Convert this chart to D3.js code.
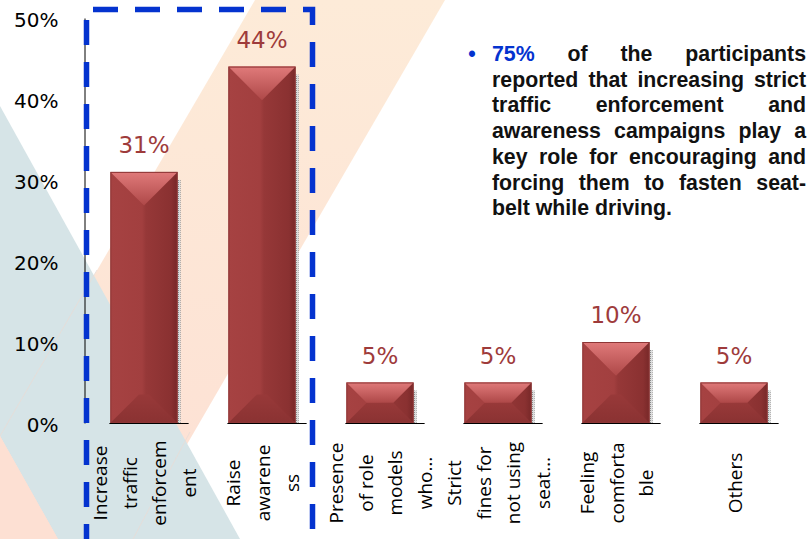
<!DOCTYPE html>
<html>
<head>
<meta charset="utf-8">
<script src="https://cdn.jsdelivr.net/npm/d3@7"></script>
<style>
  body { margin: 0; background: #fff; }
  svg { display: block; }
</style>
</head>
<body>
<div id="chart"></div>
<script>
// data
const categories = ['Increase traffic enforcement', 'Raise awareness', 'Presence of role models who...',
  'Strict fines for not using seat...', 'Feeling comfortable', 'Others'];
const labelLines = [
  ['Increase', 'traffic', 'enforcem', 'ent'],
  ['Raise', 'awarene', 'ss'],
  ['Presence', 'of role', 'models', 'who…'],
  ['Strict', 'fines for', 'not using', 'seat…'],
  ['Feeling', 'comforta', 'ble'],
  ['Others']
];
const values = [31, 44, 5, 5, 10, 5];
const yTicks = [0, 10, 20, 30, 40, 50];
const noteLines = [
  ['75%', 'of', 'the', 'participants'],
  ['reported', 'that', 'increasing', 'strict'],
  ['traffic', 'enforcement', 'and'],
  ['awareness', 'campaigns', 'play', 'a'],
  ['key', 'role', 'for', 'encouraging', 'and'],
  ['forcing', 'them', 'to', 'fasten', 'seat-'],
  ['belt while driving.']
];

const width = 811, height = 539;
const svg = d3.select('#chart').append('svg')
  .attr('width', width)
  .attr('height', height);

const defs = svg.append('defs');

const peach = defs.append('linearGradient').attr('id', 'peach')
  .attr('x1', 0).attr('y1', 0).attr('x2', 0).attr('y2', 1);
peach.append('stop').attr('offset', '0%').attr('stop-color', '#fdebd8');
peach.append('stop').attr('offset', '100%').attr('stop-color', '#fde0d4');

const barGrad = defs.append('linearGradient').attr('id', 'barGrad')
  .attr('x1', 0).attr('y1', 0).attr('x2', 1).attr('y2', 0);
barGrad.append('stop').attr('offset', '0%').attr('stop-color', '#a64242');
barGrad.append('stop').attr('offset', '47%').attr('stop-color', '#a23f3f');
barGrad.append('stop').attr('offset', '53%').attr('stop-color', '#963838');
barGrad.append('stop').attr('offset', '90%').attr('stop-color', '#8a3131');
barGrad.append('stop').attr('offset', '100%').attr('stop-color', '#772828');

const topGrad = defs.append('linearGradient').attr('id', 'topGrad')
  .attr('x1', 0).attr('y1', 0).attr('x2', 0).attr('y2', 1);
topGrad.append('stop').attr('offset', '0%').attr('stop-color', '#e07a7a');
topGrad.append('stop').attr('offset', '100%').attr('stop-color', '#ae4848');

const botGrad = defs.append('linearGradient').attr('id', 'botGrad')
  .attr('x1', 0).attr('y1', 1).attr('x2', 0).attr('y2', 0);
botGrad.append('stop').attr('offset', '0%').attr('stop-color', '#8a3232');
botGrad.append('stop').attr('offset', '100%').attr('stop-color', '#983939');

const dots = defs.append('pattern').attr('id', 'dots')
  .attr('width', 2).attr('height', 2).attr('patternUnits', 'userSpaceOnUse');
dots.append('rect').attr('width', 2).attr('height', 2).attr('fill', '#dcdcdc');
dots.append('rect').attr('width', 1).attr('height', 1).attr('fill', '#8c8c8c');

// background shapes
svg.append('rect').attr('width', width).attr('height', height).attr('fill', '#fff');

svg.append('polygon')
  .attr('points', [[255, 0], [445, 0], [132, 539], [-60, 539]].join(' '))
  .attr('fill', 'url(#peach)');

svg.append('polygon')
  .attr('points', [[0, 106], [240, 539], [58, 539], [0, 436]].join(' '))
  .attr('fill', '#d6e4e7');

svg.append('polygon')
  .attr('points', [[0, 436], [58, 539], [0, 539]].join(' '))
  .attr('fill', '#fde0d3');

// faint edges of the peach band seen through the grey band
svg.append('line')
  .attr('x1', 0).attr('y1', 436).attr('x2', 97).attr('y2', 270)
  .attr('stroke', '#e9dcd6').attr('stroke-width', 0.8);
svg.append('line')
  .attr('x1', 190).attr('y1', 432).attr('x2', 133).attr('y2', 539)
  .attr('stroke', '#e9dcd6').attr('stroke-width', 0.8);

// scales
const x = d3.scaleBand()
  .domain(categories)
  .range([85, 793])
  .paddingInner(0.43)
  .paddingOuter(0.215);

const y = d3.scaleLinear()
  .domain([0, 50])
  .range([423, 18]);

// y axis
const yAxis = svg.append('g')
  .attr('transform', 'translate(84.5,0)')
  .call(d3.axisLeft(y).tickValues(yTicks).tickSize(0).tickPadding(26).tickFormat(d => d + '%'));
yAxis.select('.domain').attr('stroke', '#000').attr('stroke-width', 1);
yAxis.selectAll('text')
  .attr('font-family', 'DejaVu Sans')
  .attr('font-size', '20px')
  .attr('fill', '#000')
  .attr('dy', '0.4em');

// bars
const bw = x.bandwidth();
const bars = svg.append('g').selectAll('g')
  .data(categories)
  .join('g');

bars.each(function(c, i) {
  const g = d3.select(this);
  const x0 = x(c), x1 = x0 + bw;
  const y0 = y(values[i]), y1 = y(0);
  const h = y1 - y0;
  const d = Math.min(bw / 2, h / 2);
  const db = Math.min(bw / 2 * 0.85, h / 2);

  g.append('rect')
    .attr('x', x1).attr('y', y0 + 8)
    .attr('width', 3).attr('height', h - 8)
    .attr('fill', 'url(#dots)');

  g.append('line')
    .attr('x1', x0 - 1).attr('x2', x1 + 11)
    .attr('y1', y1 + 0.5).attr('y2', y1 + 0.5)
    .attr('stroke', '#000').attr('stroke-width', 1);

  g.append('rect')
    .attr('x', x0).attr('y', y0)
    .attr('width', bw).attr('height', h)
    .attr('fill', 'url(#barGrad)');

  g.append('polygon')
    .attr('points', [[x0, y1], [x1, y1], [x1 - db, y1 - db], [x0 + db, y1 - db]].join(' '))
    .attr('fill', 'url(#botGrad)');

  g.append('polygon')
    .attr('points', [[x0, y0], [x1, y0], [x1 - d, y0 + d], [x0 + d, y0 + d]].join(' '))
    .attr('fill', 'url(#topGrad)');

  g.append('rect')
    .attr('x', x0 + 0.5).attr('y', y0 + 0.5)
    .attr('width', bw - 1).attr('height', h - 1)
    .attr('fill', 'none')
    .attr('stroke', '#8e3636')
    .attr('stroke-width', 1);

  g.append('text')
    .attr('x', x0 + bw / 2)
    .attr('y', y0 - 19)
    .attr('text-anchor', 'middle')
    .attr('font-family', 'DejaVu Sans')
    .attr('font-size', '23px')
    .attr('fill', '#9e3b3b')
    .text(values[i] + '%');
});

// category labels, vertical, wrapped like the original
const lineGap = 29.5;
categories.forEach((c, i) => {
  const lines = labelLines[i];
  const cx = x(c) + bw / 2;
  lines.forEach((t, j) => {
    const bx = cx + (j - (lines.length - 1) / 2) * lineGap + 7.5;
    svg.append('text')
      .attr('transform', `translate(${bx},483) rotate(-90)`)
      .attr('text-anchor', 'middle')
      .attr('font-family', 'Open Sans')
      .attr('font-size', '19px')
      .attr('fill', '#000')
      .text(t);
  });
});

// blue dashed highlight box
svg.append('path')
  .attr('d', 'M86.5,549 V9.5 H312.5 V560')
  .attr('fill', 'none')
  .attr('stroke', '#0433cf')
  .attr('stroke-width', 5.5)
  .attr('stroke-dasharray', '25,17');

// note text, justified
const note = svg.append('g')
  .attr('font-family', 'Liberation Sans, Arial')
  .attr('font-weight', 'bold')
  .attr('font-size', '21.3px');

note.append('text')
  .attr('x', 472).attr('y', 61)
  .attr('text-anchor', 'middle')
  .attr('fill', '#0433cf')
  .text('•');

const left = 492, right = 806;
noteLines.forEach((words, li) => {
  const by = 61 + li * 25.7;
  const nodes = words.map((w, wi) => note.append('text')
    .attr('y', by)
    .attr('fill', li === 0 && wi === 0 ? '#0433cf' : '#111')
    .text(w));
  const widths = nodes.map(n => n.node().getComputedTextLength());
  const total = d3.sum(widths);
  const last = li === noteLines.length - 1;
  const gap = (last || words.length < 2) ? 0 : (right - left - total) / (words.length - 1);
  let cur = left;
  nodes.forEach((n, k) => {
    n.attr('x', cur);
    cur += widths[k] + gap;
  });
});
</script>
</body>
</html>
